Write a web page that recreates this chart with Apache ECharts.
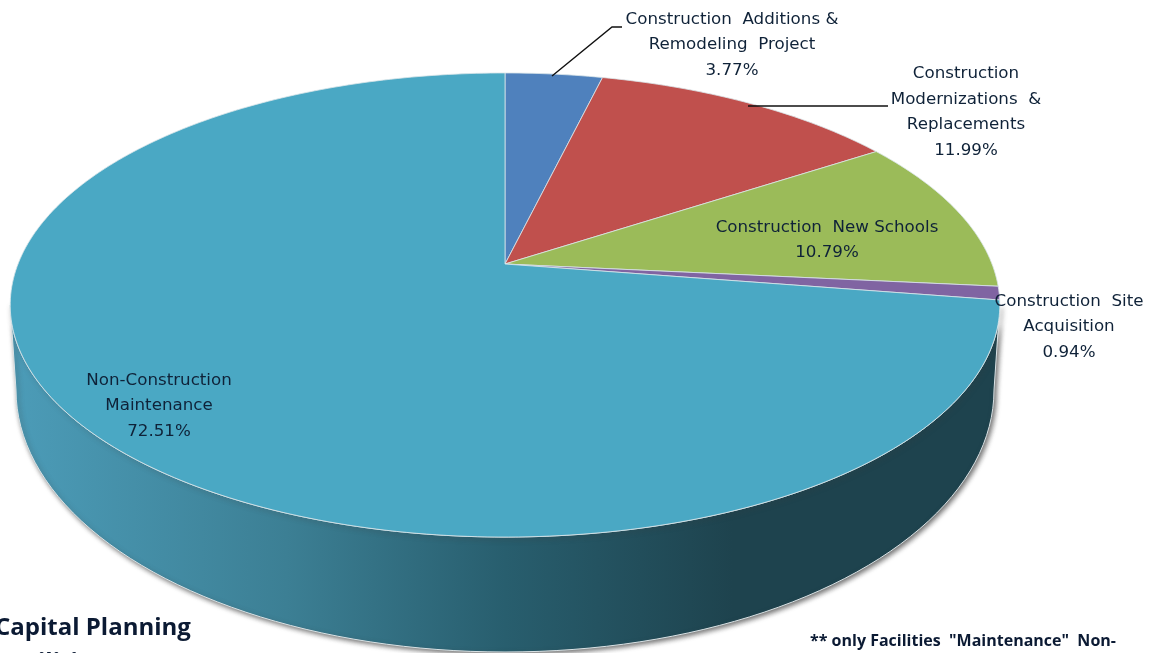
<!DOCTYPE html>
<html><head><meta charset="utf-8">
<style>html,body{margin:0;padding:0;background:#fff}#c{width:1151px;height:653px;filter:blur(0.45px)}</style>
<script src="https://cdn.jsdelivr.net/npm/echarts@6/dist/echarts.min.js"></script>
</head><body><div id="c"></div>
<script>
const categories = ['Construction  Additions &\nRemodeling  Project','Construction\nModernizations  &\nReplacements','Construction  New Schools','Construction  Site\nAcquisition','Non-Construction\nMaintenance'];
const values = [3.77,11.99,10.79,0.94,72.51];
const colors = ['#4f81bd','#c0504d','#9bbb59','#8064a2','#4aa8c4'];

const FONT='"DejaVu Sans",sans-serif';
const labelPos=[[732,45],[966,112],[827,240],[1069,327],[159,406]];
const leaders=[[[552,76],[612,27],[622,27]],[[748,106],[888,106]],[],[],[]];
const G={cx:505,cy:264,A:487,B:224.8,k:0.1767,botCy:390,botA:489,botB:262};
function proj(deg){
  const t=deg*Math.PI/180,u=Math.sin(t),v=Math.cos(t),w=1+G.k*v;
  return [G.cx+G.A*u/w,G.cy-G.B*v/w];
}
function arc(a0,a1){
  const pts=[],n=Math.max(2,Math.ceil(Math.abs(a1-a0)));
  for(let i=0;i<=n;i++)pts.push(proj(a0+(a1-a0)*i/n));
  return pts;
}
function lowerRim(){
  const pts=[];
  for(let d=180;d>=0;d-=2){
    const t=d*Math.PI/180;
    pts.push([G.cx+G.botA*Math.cos(t),G.botCy+G.botB*Math.sin(t)]);
  }
  return pts;
}
const total=values.reduce((a,b)=>a+b,0);
const chart=echarts.init(document.getElementById('c'));
chart.setOption({
  animation:false,
  series:[{
    type:'custom',coordinateSystem:'none',silent:true,clip:false,
    data:values.map((v,i)=>({value:[v,i]})),
    renderItem(params,api){
      const i=params.dataIndex;
      let a0=0;for(let j=0;j<i;j++)a0+=values[j]/total*360;
      const a1=a0+values[i]/total*360;
      const kids=[];
      if(i===values.length-1){
        const tr=90+Math.asin(G.k)*180/Math.PI, tl=270-Math.asin(G.k)*180/Math.PI;
        const wall=arc(tr,tl).concat(lowerRim());
        kids.push({type:'polygon',z2:1,shape:{points:wall},style:{
          fill:{type:'linear',x:10,y:0,x2:1000,y2:0,global:true,colorStops:[
            {offset:0,color:'#4c9cb8'},{offset:0.28,color:'#3c7f94'},{offset:0.5,color:'#285e6e'},{offset:0.73,color:'#1e434e'},{offset:1,color:'#1e434e'}]},
          stroke:'#d9e2e5',lineWidth:1,shadowBlur:5,shadowColor:'rgba(60,60,60,0.75)',shadowOffsetX:2,shadowOffsetY:2}});
      }
      kids.push({type:'polygon',z2:2,shape:{points:[[G.cx,G.cy]].concat(arc(a0,a1))},style:{fill:colors[i],stroke:'#dbe6ea',lineWidth:0.8}});
      const lp=labelPos[i];
      if(leaders[i].length)kids.push({type:'polyline',z2:3,shape:{points:leaders[i]},style:{fill:'none',stroke:'#111',lineWidth:1.4}});
      kids.push({type:'text',z2:4,x:lp[0],y:lp[1],style:{text:categories[i]+'\n'+values[i].toFixed(2)+'%',font:'16.7px '+FONT,lineHeight:25.5,fill:'#0f2238',align:'center',verticalAlign:'middle'}});
      return {type:'group',children:kids};
    }
  }],
  graphic:[
    {type:'text',x:-5,y:616,style:{text:'Capital Planning',font:'bold 24px "Open Sans",sans-serif',fill:'#0b1a33'}},
    {type:'text',x:-2,y:651,style:{text:'Facilities',font:'bold 24px "Open Sans",sans-serif',fill:'#0b1a33'}},
    {type:'text',x:810,y:633,style:{text:'** only Facilities  "Maintenance"  Non-',font:'bold 16px "Open Sans",sans-serif',fill:'#0b1a33'}}
  ]
});
</script></body></html>
